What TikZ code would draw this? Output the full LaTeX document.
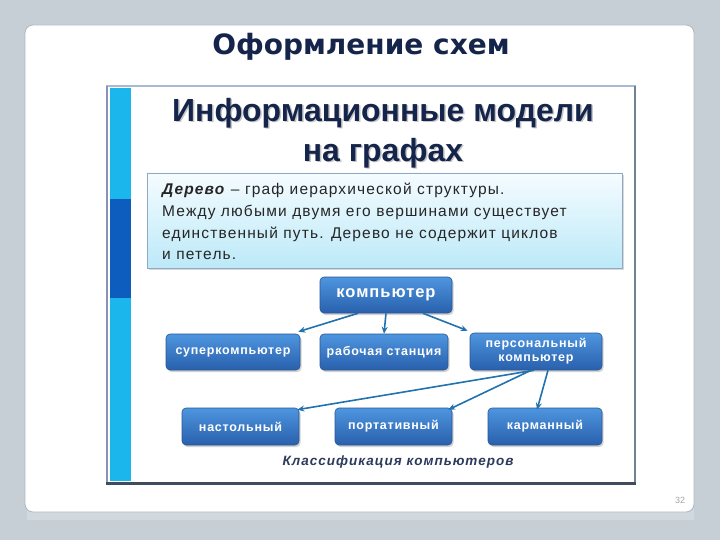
\documentclass[tikz,border=0pt]{standalone}
\usepackage{fontspec}
\setmainfont{Liberation Sans}
\newfontfamily\titlefont{DejaVu Sans}
\newfontfamily\spacedfont[LetterSpace=7.5]{Liberation Sans}
\newfontfamily\nodefont[LetterSpace=6]{Liberation Sans}
\usetikzlibrary{shadows,arrows.meta}
\definecolor{bgc}{HTML}{C6CFD6}
\definecolor{panelborder}{HTML}{AEB8C1}
\definecolor{navy}{HTML}{14244A}
\definecolor{stripcyan}{HTML}{1BB6EC}
\definecolor{stripdark}{HTML}{0C5DBE}
\definecolor{nodetop}{HTML}{4E95DF}
\definecolor{nodebot}{HTML}{2960AC}
\definecolor{nodeborder}{HTML}{2A5796}
\definecolor{arrowc}{HTML}{2172AE}
\definecolor{defborder}{HTML}{8FA9C2}
\definecolor{deftop}{HTML}{F5FCFF}
\definecolor{defbot}{HTML}{BCE9F8}
\definecolor{frtop}{HTML}{A7BBD6}
\definecolor{frleft}{HTML}{8C92B4}
\definecolor{frright}{HTML}{6F8193}
\definecolor{frbot}{HTML}{3E4C5E}
\tikzset{
  cnode/.style={rounded corners=4pt, top color=nodetop, bottom color=nodebot,
    draw=nodeborder, line width=0.6pt, text=white, font=\nodefont\bfseries\fontsize{12.5}{14}\selectfont,
    align=center, inner sep=2pt, drop shadow={shadow xshift=1.5pt, shadow yshift=-2pt, opacity=0.35}},
  conn/.style={draw=arrowc, line width=1.6pt, -{Stealth[length=7pt,width=6pt]}}
}
\begin{document}
\begin{tikzpicture}[x=1pt,y=-1pt]
\useasboundingbox (0,0) rectangle (720,540);
\fill[bgc] (0,0) rectangle (720,540);
% panel
\fill[bgc!80!white] (27,505) rectangle (694,520);
\draw[rounded corners=8pt, fill=white, draw=panelborder, line width=0.8pt] (25,25) rectangle (694,512);
\node[font=\titlefont\bfseries\fontsize{28}{30}\selectfont, text=navy] (title) at (361,47) {Оформление схем};
\node[font=\fontsize{9}{10}\selectfont, text=gray!70] (pg) at (680,500) {32};
% inner slide
\fill[white] (107,86) rectangle (635,483);
\fill[stripcyan] (110,88) rectangle (131,481);
\fill[stripdark] (110,199) rectangle (131,298);
\draw[draw=frtop, line width=2.5pt] (106,86) -- (636,86);
\draw[draw=frleft, line width=1.5pt] (107,86) -- (107,483);
\draw[draw=frright, line width=2pt] (635,86) -- (635,483);
\draw[draw=frbot, line width=3pt] (106,483) -- (636,483);
% heading
\node[font=\bfseries\fontsize{32}{40}\selectfont, text=gray!45, align=center] (hs) at (384.5,134.5) {Информационные модели\\на графах};
\node[font=\bfseries\fontsize{32}{40}\selectfont, text=navy, align=center] (h) at (383,133) {Информационные модели\\на графах};
% definition box
\draw[top color=deftop, bottom color=defbot, draw=defborder, line width=0.8pt,
  drop shadow={shadow xshift=1.5pt, shadow yshift=-2pt, opacity=0.3}] (147,173) rectangle (622,268);
\node[anchor=north west, align=left, font=\spacedfont\fontsize{15.5}{21.7}\selectfont, text=black!85, inner sep=0pt] (def) at (162,183)
 {\textbf{\textit{Дерево}} – граф иерархической структуры.\\
  Между любыми двумя его вершинами существует\\
  единственный путь. Дерево не содержит циклов\\
  и петель.};
% tree nodes
\node[cnode, minimum width=132pt, minimum height=36pt, font=\nodefont\bfseries\fontsize{16.5}{18}\selectfont] (k) at (386,295) {компьютер};
\node[cnode, minimum width=134pt, minimum height=36pt] (sup) at (233,352) {суперкомпьютер};
\node[cnode, minimum width=128pt, minimum height=36pt] (rab) at (384,352) {рабочая станция};
\node[cnode, minimum width=132pt, minimum height=37pt] (pc) at (536,351.5) {персональный\\компьютер};
\node[cnode, minimum width=117pt, minimum height=37pt] (nas) at (240.5,426.5) {настольный};
\node[cnode, minimum width=117pt, minimum height=37pt] (por) at (393.5,426.5) {портативный};
\node[cnode, minimum width=114pt, minimum height=37pt] (kar) at (545,426.5) {карманный};
% connectors
\draw[conn] ([xshift=-28pt]k.south) -- ([xshift=-2pt,yshift=2pt]sup.north east);
\draw[conn] (k.south) -- (rab.north);
\draw[conn] ([xshift=37pt]k.south) -- ([xshift=-2pt,yshift=2pt]pc.north west);
\draw[conn] ([xshift=-2pt]pc.south) -- ([xshift=-2pt,yshift=-2pt]nas.north east);
\draw[conn] ([xshift=-5pt]pc.south) -- ([xshift=-4pt,yshift=-2pt]por.north east);
\draw[conn] ([xshift=12pt]pc.south) -- ([xshift=-8pt,yshift=-2pt]kar.north);
% caption
\node[font=\spacedfont\bfseries\itshape\fontsize{13.5}{14}\selectfont, text=navy!90] (cap) at (398,462) {Классификация компьютеров};
\end{tikzpicture}
\end{document}
